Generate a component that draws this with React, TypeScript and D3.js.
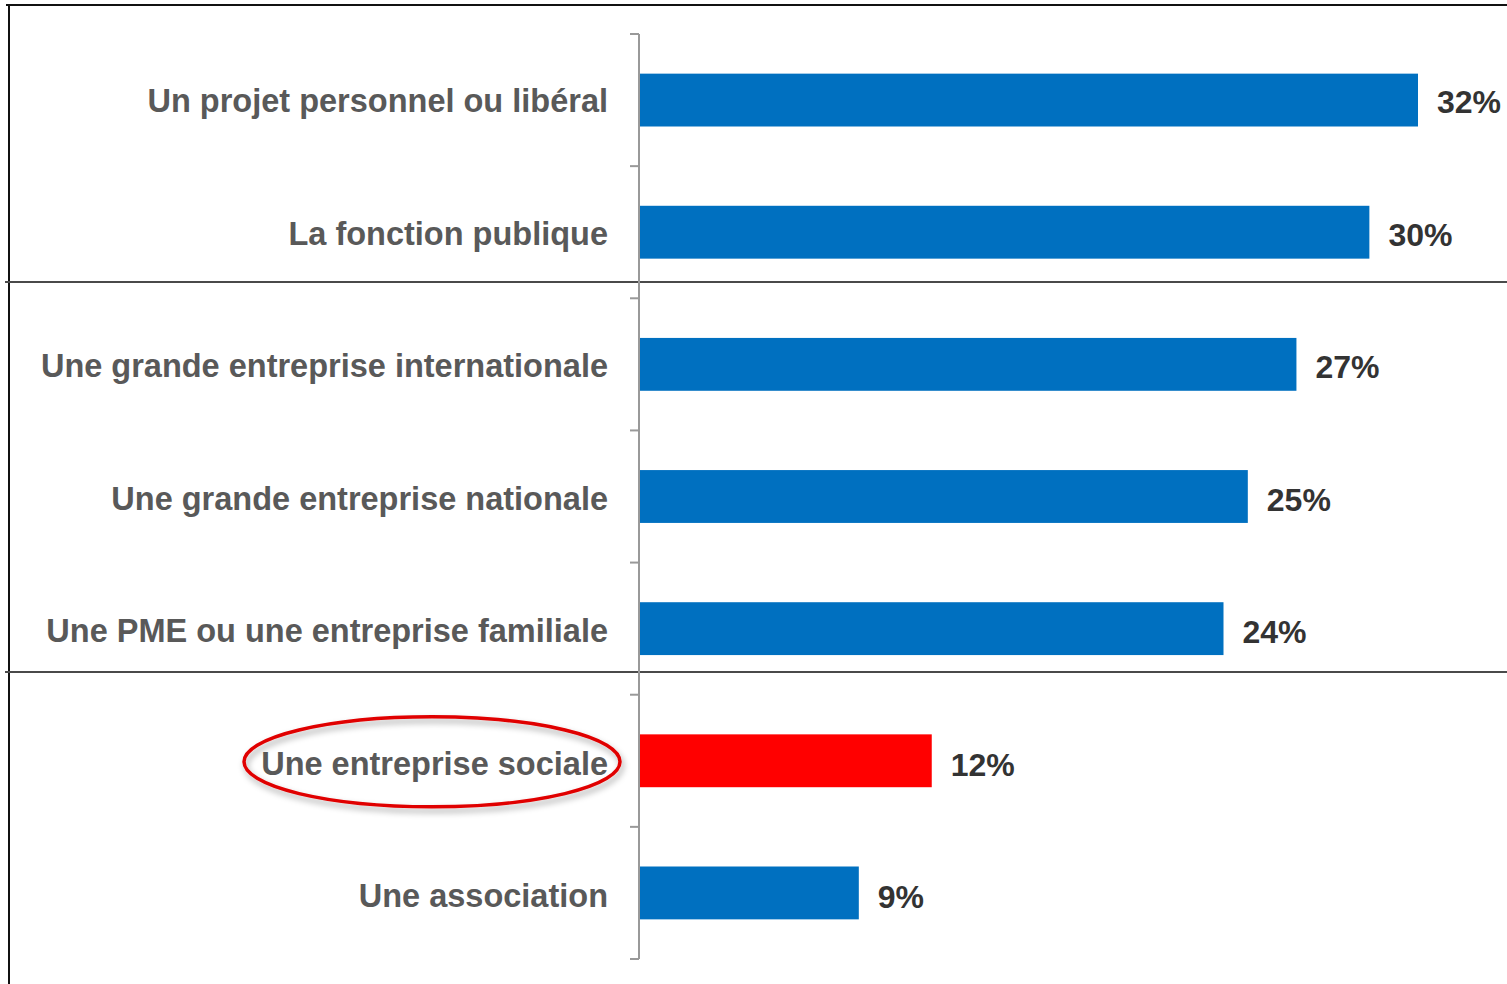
import React from 'react';
import * as d3 from 'd3';

const categories = [
  'Un projet personnel ou libéral',
  'La fonction publique',
  'Une grande entreprise internationale',
  'Une grande entreprise nationale',
  'Une PME ou une entreprise familiale',
  'Une entreprise sociale',
  'Une association',
];
const values = [32, 30, 27, 25, 24, 12, 9];
const highlighted = ['Une entreprise sociale'];

const W = 1507;
const H = 984;
const axisX = 639;

const App: React.FC = () => {
  const x = d3.scaleLinear().domain([0, 32]).range([axisX + 1, 1418]);
  const y = d3.scaleBand<string>().domain(categories).range([34, 959]).paddingInner(0.6).paddingOuter(0.3);
  const step = y.step();
  const ticks = d3.range(categories.length + 1).map(i => 34 + i * step);
  const font = '"Liberation Sans", Arial, Helvetica, sans-serif';

  const hl = highlighted[0];
  const hlY = (y(hl) ?? 0) + y.bandwidth() / 2;

  return (
    <svg width={W} height={H} style={{ position: 'fixed', left: 0, top: 0, background: '#fff' }}>
      <defs>
        <filter id="shadow" x="-20%" y="-40%" width="140%" height="180%">
          <feDropShadow dx="2" dy="4" stdDeviation="3" floodColor="#000" floodOpacity="0.35" />
        </filter>
      </defs>

      {/* frame */}
      <line x1={6} x2={W} y1={5} y2={5} stroke="#111" strokeWidth={2} />
      <line x1={9} x2={9} y1={4} y2={H} stroke="#111" strokeWidth={2} />
      <line x1={5} x2={W} y1={282} y2={282} stroke="#4a4a4a" strokeWidth={2} />
      <line x1={5} x2={W} y1={672} y2={672} stroke="#4a4a4a" strokeWidth={2} />

      {/* axis */}
      <line x1={axisX} x2={axisX} y1={34} y2={959} stroke="#999" strokeWidth={2} />
      {ticks.map((t, i) => (
        <line key={i} x1={630} x2={axisX} y1={t} y2={t} stroke="#999" strokeWidth={2} />
      ))}

      {/* bars */}
      {categories.map((c, i) => (
        <rect
          key={c}
          x={x(0)}
          y={y(c)}
          width={x(values[i]) - x(0)}
          height={y.bandwidth()}
          fill={highlighted.includes(c) ? '#FF0000' : '#0070C0'}
        />
      ))}

      {/* category labels */}
      {categories.map((c, i) => (
        <text
          key={c}
          x={608}
          y={(y(c) ?? 0) + y.bandwidth() / 2 + 12 + i * 0.4}
          textAnchor="end"
          fontFamily={font}
          fontWeight="bold"
          fontSize={32.5}
          fill="#595959"
        >
          {c}
        </text>
      ))}

      {/* value labels */}
      {categories.map((c, i) => (
        <text
          key={c}
          x={x(values[i]) + 19}
          y={(y(c) ?? 0) + y.bandwidth() / 2 + 13 + i * 0.4}
          fontFamily={font}
          fontWeight="bold"
          fontSize={32}
          fill="#333"
        >
          {values[i]}%
        </text>
      ))}

      {/* highlight ellipse */}
      <ellipse
        cx={432}
        cy={hlY + 1}
        rx={188}
        ry={45}
        fill="none"
        stroke="#E00000"
        strokeWidth={3.5}
        filter="url(#shadow)"
      />
    </svg>
  );
};

export default App;
